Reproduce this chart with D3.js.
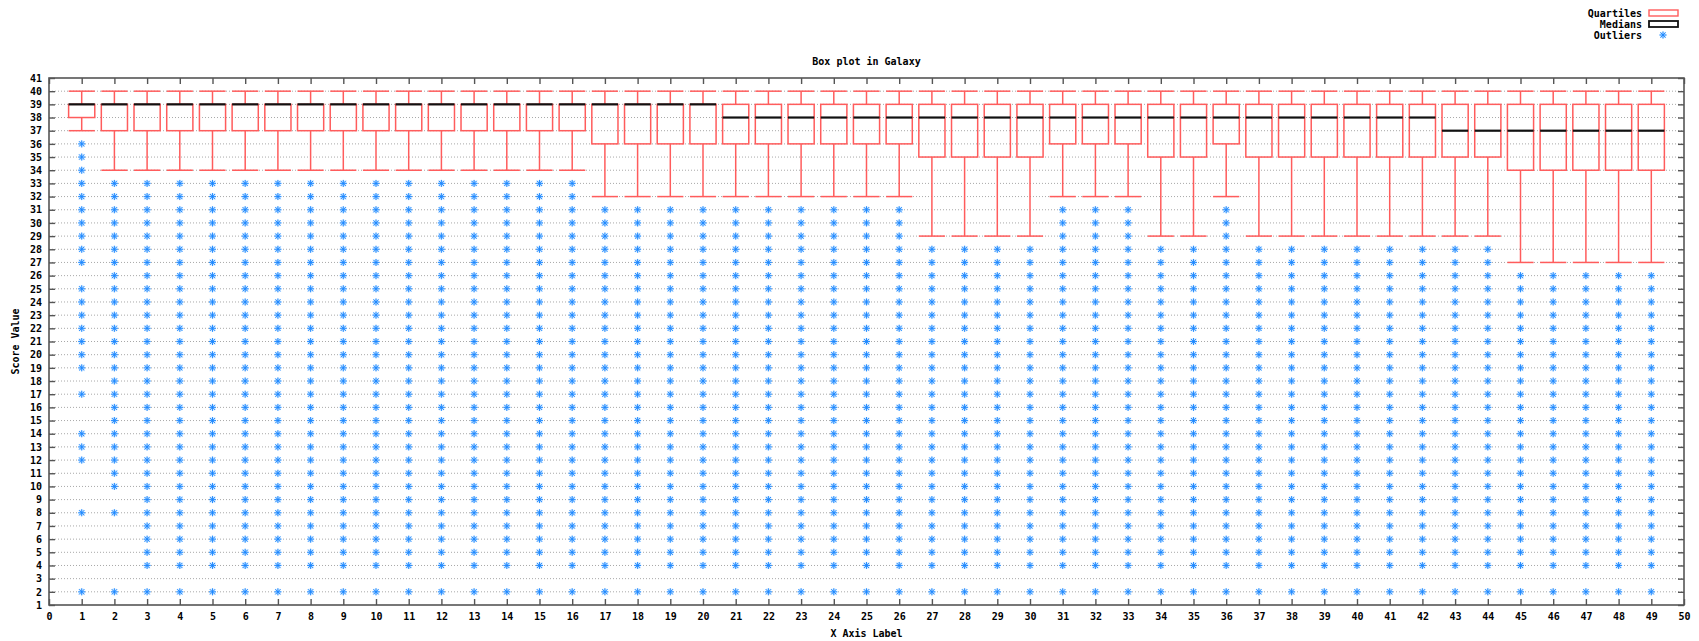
<!DOCTYPE html>
<html>
<head>
<meta charset="utf-8">
<script src="https://cdn.jsdelivr.net/npm/d3@7"></script>
<style>
  body { margin: 0; background: #fff; }
  svg text { font-family: "DejaVu Sans Mono", monospace; font-weight: bold; font-size: 10px; fill: #000; }
</style>
</head>
<body>
<svg id="chart" width="1699" height="641"></svg>
<script>
// one entry per box, columns 1..49
const columns = [1, 2, 3, 4, 5, 6, 7, 8, 9, 10, 11, 12, 13, 14, 15, 16, 17, 18, 19, 20,
    21, 22, 23, 24, 25, 26, 27, 28, 29, 30, 31, 32, 33, 34, 35, 36, 37, 38, 39, 40,
    41, 42, 43, 44, 45, 46, 47, 48, 49];
const whiskerHigh = [40, 40, 40, 40, 40, 40, 40, 40, 40, 40, 40, 40, 40, 40, 40, 40, 40, 40, 40, 40,
    40, 40, 40, 40, 40, 40, 40, 40, 40, 40, 40, 40, 40, 40, 40, 40, 40, 40, 40, 40,
    40, 40, 40, 40, 40, 40, 40, 40, 40];
const q3Values = [39, 39, 39, 39, 39, 39, 39, 39, 39, 39, 39, 39, 39, 39, 39, 39, 39, 39, 39, 39,
    39, 39, 39, 39, 39, 39, 39, 39, 39, 39, 39, 39, 39, 39, 39, 39, 39, 39, 39, 39,
    39, 39, 39, 39, 39, 39, 39, 39, 39];
const medians = [39, 39, 39, 39, 39, 39, 39, 39, 39, 39, 39, 39, 39, 39, 39, 39, 39, 39, 39, 39,
    38, 38, 38, 38, 38, 38, 38, 38, 38, 38, 38, 38, 38, 38, 38, 38, 38, 38, 38, 38,
    38, 38, 37, 37, 37, 37, 37, 37, 37];
const q1Values = [38, 37, 37, 37, 37, 37, 37, 37, 37, 37, 37, 37, 37, 37, 37, 37, 36, 36, 36, 36,
    36, 36, 36, 36, 36, 36, 35, 35, 35, 35, 36, 36, 36, 35, 35, 36, 35, 35, 35, 35,
    35, 35, 35, 35, 34, 34, 34, 34, 34];
const whiskerLow = [37, 34, 34, 34, 34, 34, 34, 34, 34, 34, 34, 34, 34, 34, 34, 34, 32, 32, 32, 32,
    32, 32, 32, 32, 32, 32, 29, 29, 29, 29, 32, 32, 32, 29, 29, 32, 29, 29, 29, 29,
    29, 29, 29, 29, 27, 27, 27, 27, 27];

// outlier values, grouped by the shapes that occur in the picture
const outliersCol1 = [36, 35, 34, 33, 32, 31, 30, 29, 28, 27, 25, 24, 23, 22, 21, 20, 19, 17, 14, 13, 12, 8, 2];
const outliersCol2 = [33, 32, 31, 30, 29, 28, 27, 26, 25, 24, 23, 22, 21, 20, 19, 18, 17, 16, 15, 14, 13, 12, 11, 10, 8, 2];
const outliersBelow34 = [33, 32, 31, 30, 29, 28, 27, 26, 25, 24, 23, 22, 21, 20, 19, 18, 17, 16, 15, 14, 13, 12, 11, 10, 9, 8, 7, 6, 5, 4, 2];
const outliersBelow32 = [31, 30, 29, 28, 27, 26, 25, 24, 23, 22, 21, 20, 19, 18, 17, 16, 15, 14, 13, 12, 11, 10, 9, 8, 7, 6, 5, 4, 2];
const outliersBelow29 = [28, 27, 26, 25, 24, 23, 22, 21, 20, 19, 18, 17, 16, 15, 14, 13, 12, 11, 10, 9, 8, 7, 6, 5, 4, 2];
const outliersBelow27 = [26, 25, 24, 23, 22, 21, 20, 19, 18, 17, 16, 15, 14, 13, 12, 11, 10, 9, 8, 7, 6, 5, 4, 2];
const outlierSets = { c1: outliersCol1, c2: outliersCol2, b34: outliersBelow34, b32: outliersBelow32, b29: outliersBelow29, b27: outliersBelow27 };
const outlierSetOf = ['c1', 'c2', 'b34', 'b34', 'b34', 'b34', 'b34', 'b34', 'b34', 'b34', 'b34', 'b34', 'b34', 'b34', 'b34', 'b34',
    'b32', 'b32', 'b32', 'b32', 'b32', 'b32', 'b32', 'b32', 'b32', 'b32', 'b29', 'b29', 'b29', 'b29',
    'b32', 'b32', 'b32', 'b29', 'b29', 'b32', 'b29', 'b29', 'b29', 'b29', 'b29', 'b29', 'b29', 'b29',
    'b27', 'b27', 'b27', 'b27', 'b27'];

const xTicks = d3.range(0, 51);
const yTicks = d3.range(1, 42);

const boxColor = '#ff5c5c';
const outlierColor = '#1a86ff';

const svg = d3.select('#chart');
const margin = { left: 49, right: 1684, top: 78, bottom: 605 };

const x = d3.scaleLinear().domain([0, 50]).range([margin.left, margin.right]);
const y = d3.scaleLinear().domain([1, 41]).range([margin.bottom, margin.top]);
const boxWidth = x(0.8) - x(0);

let boxes = columns.map(function (c, i) {
    return {
        col: c,
        high: whiskerHigh[i],
        q3: q3Values[i],
        median: medians[i],
        q1: q1Values[i],
        low: whiskerLow[i],
        outliers: outlierSets[outlierSetOf[i]]
    };
});

// grid
svg.append('g')
    .attr('class', 'grid')
    .selectAll('line')
    .data(yTicks.filter(function (d) { return d > 1 && d < 41; }))
    .enter()
    .append('line')
    .attr('x1', margin.left)
    .attr('x2', margin.right)
    .attr('y1', function (d) { return y(d); })
    .attr('y2', function (d) { return y(d); })
    .style('stroke', '#a8a8a8')
    .style('stroke-width', 1)
    .style('stroke-dasharray', '1,2');

// boxes
let boxG = svg.append('g').attr('class', 'boxes')
    .selectAll('g.box')
    .data(boxes)
    .enter()
    .append('g')
    .attr('class', 'box')
    .attr('transform', function (d) { return 'translate(' + x(d.col) + ',0)'; });

boxG.append('line')
    .attr('x1', 0).attr('x2', 0)
    .attr('y1', function (d) { return y(d.q3); })
    .attr('y2', function (d) { return y(d.high); });
boxG.append('line')
    .attr('x1', 0).attr('x2', 0)
    .attr('y1', function (d) { return y(d.q1); })
    .attr('y2', function (d) { return y(d.low); });
boxG.append('line')
    .attr('x1', -boxWidth / 2).attr('x2', boxWidth / 2)
    .attr('y1', function (d) { return y(d.high); })
    .attr('y2', function (d) { return y(d.high); });
boxG.append('line')
    .attr('x1', -boxWidth / 2).attr('x2', boxWidth / 2)
    .attr('y1', function (d) { return y(d.low); })
    .attr('y2', function (d) { return y(d.low); });
boxG.append('rect')
    .attr('x', -boxWidth / 2)
    .attr('width', boxWidth)
    .attr('y', function (d) { return y(d.q3); })
    .attr('height', function (d) { return y(d.q1) - y(d.q3); })
    .style('fill', 'none');
boxG.selectAll('line, rect')
    .style('stroke', boxColor)
    .style('stroke-width', 1.5);
boxG.append('line')
    .attr('x1', -boxWidth / 2).attr('x2', boxWidth / 2)
    .attr('y1', function (d) { return y(d.median); })
    .attr('y2', function (d) { return y(d.median); })
    .style('stroke', '#111')
    .style('stroke-width', 2.2);

// outliers, gnuplot style asterisk
const star = 'M-3.5,0H3.5M0,-3.5V3.5M-2.6,-2.6L2.6,2.6M-2.6,2.6L2.6,-2.6';
let outlierPoints = [];
boxes.forEach(function (b) {
    b.outliers.forEach(function (v) { outlierPoints.push({ col: b.col, value: v }); });
});
let outG = svg.append('g').attr('class', 'outliers');
outG.selectAll('path.halo')
    .data(outlierPoints)
    .enter()
    .append('path')
    .attr('class', 'halo')
    .attr('d', star)
    .attr('transform', function (d) { return 'translate(' + x(d.col) + ',' + y(d.value) + ')'; })
    .style('stroke', '#c2e1ff')
    .style('stroke-width', 1.8)
    .style('fill', 'none');
outG.selectAll('path.pt')
    .data(outlierPoints)
    .enter()
    .append('path')
    .attr('class', 'pt')
    .attr('d', star)
    .attr('transform', function (d) { return 'translate(' + x(d.col) + ',' + y(d.value) + ')'; })
    .style('stroke', outlierColor)
    .style('stroke-width', 0.9)
    .style('fill', 'none');

// axes
let xAxis = svg.append('g')
    .attr('transform', 'translate(0,' + margin.bottom + ')')
    .call(d3.axisBottom(x).tickValues(xTicks).tickFormat(d3.format('d')).tickSizeInner(-6).tickSizeOuter(0).tickPadding(8));
let yAxis = svg.append('g')
    .attr('transform', 'translate(' + margin.left + ',0)')
    .call(d3.axisLeft(y).tickValues(yTicks).tickFormat(d3.format('d')).tickSizeInner(-6).tickSizeOuter(0).tickPadding(7));
let xTop = svg.append('g')
    .attr('transform', 'translate(0,' + margin.top + ')')
    .call(d3.axisTop(x).tickValues(xTicks).tickFormat('').tickSizeInner(-6).tickSizeOuter(0));
let yRight = svg.append('g')
    .attr('transform', 'translate(' + margin.right + ',0)')
    .call(d3.axisRight(y).tickValues(yTicks).tickFormat('').tickSizeInner(-6).tickSizeOuter(0));
[xAxis, yAxis, xTop, yRight].forEach(function (a) {
    a.attr('font-family', null).attr('font-size', null);
    a.selectAll('.domain').remove();
    a.selectAll('.tick line').style('stroke', '#555').style('stroke-width', 1.4);
});

svg.append('rect')
    .attr('x', margin.left)
    .attr('y', margin.top)
    .attr('width', margin.right - margin.left)
    .attr('height', margin.bottom - margin.top)
    .style('fill', 'none')
    .style('stroke', '#555')
    .style('stroke-width', 1.6);

// titles
svg.append('text')
    .attr('x', (margin.left + margin.right) / 2)
    .attr('y', 65)
    .attr('text-anchor', 'middle')
    .text('Box plot in Galaxy');
svg.append('text')
    .attr('x', (margin.left + margin.right) / 2)
    .attr('y', 637)
    .attr('text-anchor', 'middle')
    .text('X Axis Label');
svg.append('text')
    .attr('transform', 'translate(19,' + (margin.top + margin.bottom) / 2 + ') rotate(-90)')
    .attr('text-anchor', 'middle')
    .text('Score Value');

// legend
let legend = svg.append('g').attr('class', 'legend');
let legendItems = ['Quartiles', 'Medians', 'Outliers'];
legend.selectAll('text')
    .data(legendItems)
    .enter()
    .append('text')
    .attr('x', 1642)
    .attr('y', function (d, i) { return 17 + i * 11; })
    .attr('text-anchor', 'end')
    .text(function (d) { return d; });
legend.append('rect')
    .attr('x', 1649).attr('y', 10).attr('width', 29).attr('height', 6)
    .style('fill', 'none').style('stroke', boxColor).style('stroke-width', 1.4);
legend.append('rect')
    .attr('x', 1649).attr('y', 21).attr('width', 29).attr('height', 6)
    .style('fill', 'none').style('stroke', '#111').style('stroke-width', 1.8);
legend.append('path')
    .attr('d', star)
    .attr('transform', 'translate(1663,35)')
    .style('stroke', '#c2e1ff').style('stroke-width', 1.8).style('fill', 'none');
legend.append('path')
    .attr('d', star)
    .attr('transform', 'translate(1663,35)')
    .style('stroke', outlierColor).style('stroke-width', 0.9).style('fill', 'none');
</script>
</body>
</html>
